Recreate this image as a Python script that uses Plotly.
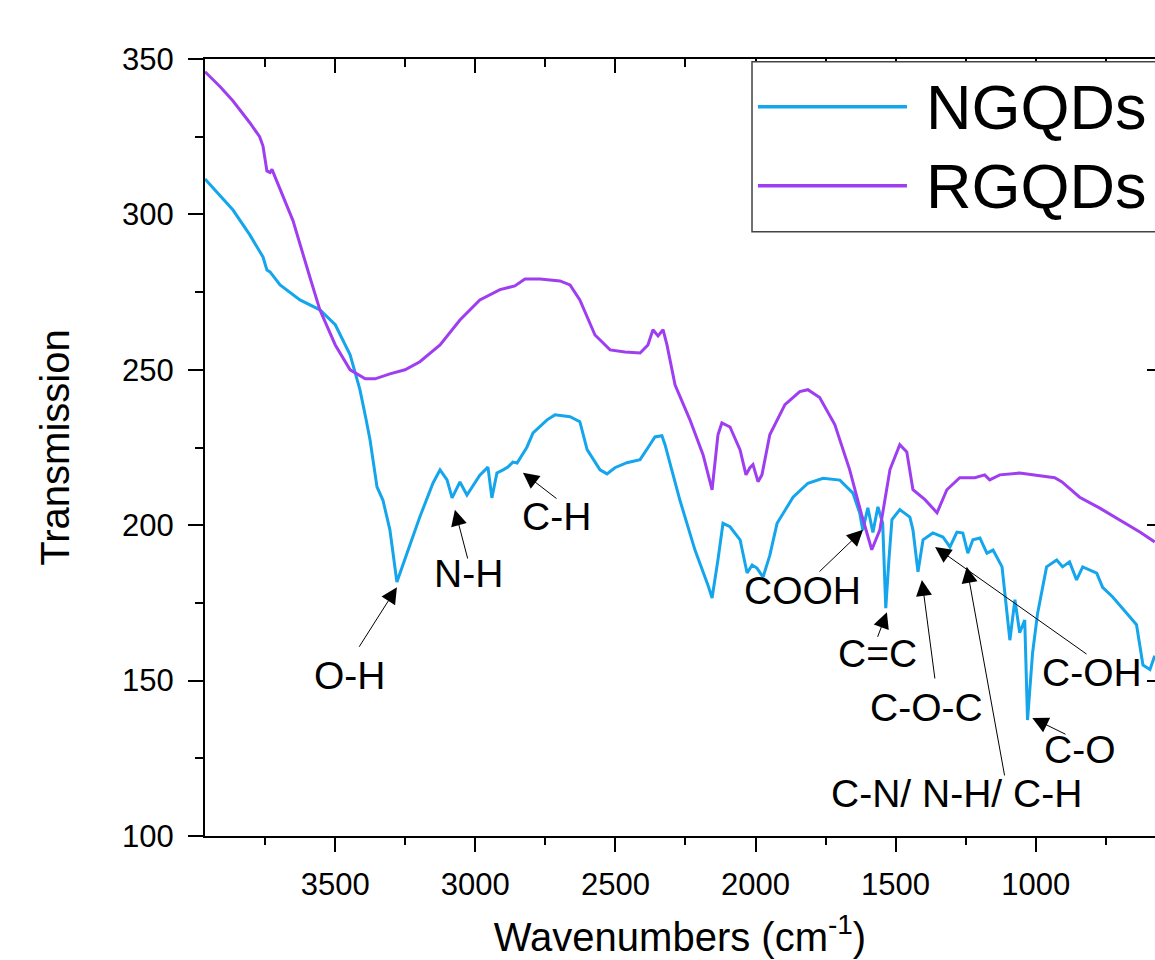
import plotly.graph_objects as go

# ---------------- data ----------------
ngqd_wn = [3965, 3865, 3805, 3758, 3744, 3733, 3697, 3626, 3555, 3500, 3447, 3412, 3390, 3376,
           3351, 3330, 3305, 3280, 3244, 3198, 3151, 3126, 3101, 3083, 3055, 3030, 2984, 2955,
           2941, 2923, 2901, 2884, 2866, 2851, 2816, 2794, 2744, 2716, 2662, 2627, 2601, 2555,
           2530, 2502, 2459, 2412, 2377, 2359, 2334, 2323, 2270, 2216, 2170, 2155, 2134, 2116,
           2091, 2055, 2030, 2012, 1995, 1973, 1949, 1923, 1866, 1813, 1759, 1699, 1652, 1628,
           1617, 1599, 1581, 1563, 1546, 1535, 1524, 1513, 1485, 1449, 1438, 1420, 1402, 1367,
           1331, 1306, 1281, 1260, 1242, 1224, 1199, 1174, 1152, 1120, 1092, 1074, 1057, 1039,
           1029, 1011, 993, 961, 925, 904, 879, 854, 832, 782, 761, 725, 675, 640, 617, 592, 575]
ngqd_t = [311.4, 301.4, 293.4, 286.3, 282.1, 281.5, 277.3, 272.5, 269.3, 264.5, 254.8, 243.6, 234.0, 227.5,
          212.3, 208.1, 198.5, 181.7, 191.0, 202.7, 213.6, 217.8, 214.6, 208.8, 213.9, 209.7, 216.1, 218.7,
          208.8, 216.8, 217.8, 218.7, 220.3, 220.0, 225.1, 229.7, 233.9, 235.5, 234.9, 233.3, 224.3, 217.8,
          216.5, 218.5, 220.1, 221.1, 225.9, 228.4, 228.8, 225.9, 208.1, 192.0, 180.8, 176.6, 188.9, 200.6,
          199.5, 195.3, 184.6, 187.2, 186.2, 183.3, 190.3, 200.6, 209.0, 213.5, 215.1, 214.5, 210.3, 203.9,
          198.4, 205.6, 197.7, 205.9, 200.6, 173.3, 188.6, 201.8, 205.0, 202.6, 198.5, 185.0, 195.3, 197.5,
          196.2, 193.0, 197.8, 197.5, 191.0, 195.3, 195.9, 191.0, 192.0, 186.6, 163.0, 176.0, 165.4, 169.5,
          137.3, 158.9, 171.7, 186.6, 188.8, 186.6, 188.2, 182.4, 186.6, 184.6, 180.0, 176.9, 171.7, 168.0,
          155.0, 153.6, 158.0]

rgqd_wn = [3965, 3910, 3865, 3805, 3770, 3758, 3744, 3733, 3726, 3697, 3651, 3590, 3555, 3500, 3447,
           3393, 3358, 3305, 3251, 3198, 3126, 3055, 2984, 2912, 2859, 2823, 2769, 2698, 2662, 2627,
           2573, 2519, 2466, 2412, 2384, 2366, 2348, 2330, 2316, 2287, 2234, 2187, 2155, 2134,
           2120, 2091, 2055, 2034, 2020, 2009, 1991, 1977, 1949, 1895, 1842, 1813, 1771, 1717,
           1664, 1621, 1585, 1556, 1520, 1485, 1460, 1438, 1395, 1352, 1317, 1271, 1217, 1182,
           1164, 1128, 1057, 985, 932, 907, 843, 771, 700, 628, 575]
rgqd_t = [345.9, 341.0, 336.5, 329.5, 325.0, 322.0, 314.0, 313.5, 314.5, 307.9, 298.0, 279.6, 269.3, 258.0,
          250.0, 247.1, 247.1, 248.7, 250.0, 252.6, 258.0, 266.0, 272.5, 275.8, 277.0, 279.2, 279.2, 278.6,
          277.3, 272.5, 261.2, 256.4, 255.7, 255.4, 258.0, 262.9, 260.9, 262.9, 258.0, 245.1, 233.9, 222.6,
          211.4, 229.1, 232.9, 231.6, 224.2, 216.2, 218.5, 219.5, 214.0, 216.2, 229.1, 238.8, 243.0, 243.6,
          241.1, 232.4, 217.9, 203.3, 192.1, 198.5, 217.9, 225.9, 223.6, 211.4, 208.2, 204.0, 211.4, 215.3,
          215.3, 216.2, 214.6, 216.2, 216.8, 215.9, 215.3, 214.0, 209.0, 205.5, 201.6, 197.8, 194.6]

series_names = ["NGQDs", "RGQDs"]

# band assignments: label, label position, arrow tail and arrow tip (wavenumber, transmission)
band_labels = ["O-H", "N-H", "C-H", "COOH", "C=C", "C-O-C", "C-N/ N-H/ C-H", "C-OH", "C-O"]
band_text_wn = [3447, 3026, 2709, 1834, 1566, 1388, 1281, 799, 841]
band_text_t = [151.7, 184.6, 202.7, 179.0, 158.7, 141.5, 113.8, 152.5, 127.7]
band_tail_wn = [3418, 3026, 2705, 1777, 1566, 1359, 1110, 813, 888]
band_tail_t = [160.4, 188.8, 208.2, 184.6, 163.6, 150.2, 119.0, 158.2, 132.5]
band_tip_wn = [3280, 3073, 2830, 1616, 1531, 1406, 1246, 1359, 1012]
band_tip_t = [180.0, 205.0, 216.9, 198.5, 172.0, 182.4, 186.6, 193.0, 138.0]

BLUE = "#14a5ec"
PURPLE = "#9e3ef0"
FONT = "Arial, 'Liberation Sans', sans-serif"
X_RANGE = [3965, 574]
Y_RANGE = [100, 350]

fig = go.Figure()
fig.add_trace(go.Scatter(x=ngqd_wn, y=ngqd_t, mode="lines", name=series_names[0],
                         line=dict(color=BLUE, width=3), showlegend=False))
fig.add_trace(go.Scatter(x=rgqd_wn, y=rgqd_t, mode="lines", name=series_names[1],
                         line=dict(color=PURPLE, width=3), showlegend=False))
# empty trace so that the mirrored (top / right) frame axes are drawn
fig.add_trace(go.Scatter(x=[], y=[], xaxis="x2", yaxis="y2", showlegend=False, hoverinfo="skip"))

annotations = []
for lab, tx, ty, ax, ay, px, py in zip(band_labels, band_text_wn, band_text_t, band_tail_wn,
                                       band_tail_t, band_tip_wn, band_tip_t):
    annotations.append(dict(x=px, y=py, ax=ax, ay=ay, xref="x", yref="y", axref="x", ayref="y",
                            text="", showarrow=True, arrowhead=2, arrowsize=3.2, arrowwidth=1,
                            arrowcolor="black"))
    annotations.append(dict(x=tx, y=ty, xref="x", yref="y", text=lab, showarrow=False,
                            font=dict(size=39, color="black", family=FONT),
                            xanchor="center", yanchor="middle"))

# custom legend (long line samples, box cut by the right edge as in the reference)
shapes = [dict(type="rect", xref="paper", yref="paper", x0=0.5758, x1=1.06, y0=0.7777, y1=0.9965,
               line=dict(color="#444444", width=1.5), fillcolor="white", layer="above")]
leg_y = [0.9386, 0.8369]
for name, col, yy in zip(series_names, [BLUE, PURPLE], leg_y):
    shapes.append(dict(type="line", xref="paper", yref="paper", x0=0.5821, x1=0.7389, y0=yy, y1=yy,
                       line=dict(color=col, width=3.5), layer="above"))
    annotations.append(dict(x=0.757, y=yy, xref="paper", yref="paper", text=name, showarrow=False,
                            xanchor="left", yanchor="middle",
                            font=dict(size=63, color="black", family=FONT)))

fig.update_layout(
    width=1155, height=960,
    margin=dict(l=205, r=0, t=59, b=124),
    paper_bgcolor="white", plot_bgcolor="white",
    font=dict(family=FONT, color="black"),
    showlegend=False,
    xaxis=dict(range=X_RANGE, tickmode="linear", tick0=0, dtick=500,
               ticks="outside", ticklen=14, tickwidth=2, tickcolor="black",
               showline=True, linewidth=2, linecolor="black", showgrid=False, zeroline=False,
               tickfont=dict(size=31), ticklabelstandoff=6,
               minor=dict(tick0=0, dtick=250, ticks="outside", ticklen=7, tickwidth=2,
                          tickcolor="black", showgrid=False),
               title=dict(text="Wavenumbers (cm<sup>-1</sup>)", font=dict(size=40), standoff=22)),
    xaxis2=dict(range=X_RANGE, overlaying="x", side="top", anchor="y", tickmode="linear", tick0=0,
                dtick=500, ticks="inside", ticklen=14, tickwidth=2, tickcolor="black",
                showline=True, linewidth=2, linecolor="black", showgrid=False, zeroline=False,
                showticklabels=False,
                minor=dict(tick0=0, dtick=250, ticks="inside", ticklen=8, tickwidth=2,
                           tickcolor="black", showgrid=False)),
    yaxis=dict(range=Y_RANGE, tickmode="linear", tick0=0, dtick=50,
               ticks="outside", ticklen=15, tickwidth=2, tickcolor="black",
               showline=True, linewidth=2, linecolor="black", showgrid=False, zeroline=False,
               tickfont=dict(size=31), ticklabelstandoff=8,
               minor=dict(tick0=0, dtick=25, ticks="outside", ticklen=8, tickwidth=2,
                          tickcolor="black", showgrid=False),
               title=dict(text="Transmission", font=dict(size=40), standoff=40)),
    yaxis2=dict(range=Y_RANGE, overlaying="y", side="right", anchor="x", tickmode="linear", tick0=0,
                dtick=50, ticks="inside", ticklen=8, tickwidth=2, tickcolor="black",
                showline=False, showgrid=False, zeroline=False, showticklabels=False),
    annotations=annotations,
    shapes=shapes,
)

fig.write_html("out.html")
